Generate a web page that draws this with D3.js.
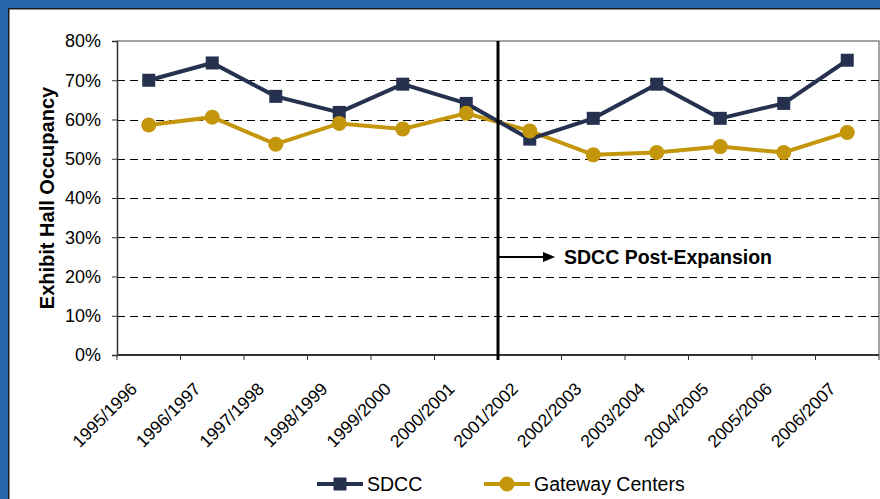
<!DOCTYPE html>
<html>
<head>
<meta charset="utf-8">
<script src="https://cdn.jsdelivr.net/npm/d3@7"></script>
<style>
  body { margin: 0; background: #fff; }
  svg { display: block; font-family: Arial, "Liberation Sans", sans-serif; }
</style>
</head>
<body>
<div id="chart"></div>
<script>
// data
var seasons = ["1995/1996", "1996/1997", "1997/1998", "1998/1999", "1999/2000", "2000/2001",
               "2001/2002", "2002/2003", "2003/2004", "2004/2005", "2005/2006", "2006/2007"];
var sdcc = [70.0, 74.4, 65.9, 61.8, 69.0, 64.1, 55.0, 60.3, 69.0, 60.3, 64.1, 75.1];
var gateway = [58.6, 60.6, 53.7, 59.0, 57.6, 61.6, 57.1, 51.0, 51.6, 53.1, 51.6, 56.7];
var yTicks = [0, 10, 20, 30, 40, 50, 60, 70, 80];
var expansionSeason = "2001/2002";

var W = 880, H = 499;
var margin = {top: 41, right: 1, bottom: 144, left: 117},
    width = W - margin.left - margin.right,
    height = H - margin.top - margin.bottom;

var navy = "#25314f", gold = "#c4960c";

var root = d3.select("#chart").append("svg")
    .attr("width", W).attr("height", H);

// blue frame
root.append("rect").attr("x", 0).attr("y", 0).attr("width", W).attr("height", H).attr("fill", "#2566a8");
root.append("rect").attr("x", 8).attr("y", 8).attr("width", W - 8).attr("height", H - 8).attr("fill", "#1a1a1a");
root.append("rect").attr("x", 9.5).attr("y", 9.5).attr("width", W - 9.5).attr("height", H - 9.5).attr("fill", "#fff");

var svg = root.append("g")
    .attr("transform", "translate(" + margin.left + "," + margin.top + ")");

var x = d3.scaleBand().domain(seasons).range([0, width]);
var y = d3.scaleLinear().domain([0, 80]).range([height, 0]);

// plot border (top/right)
svg.append("path")
    .attr("d", "M0,0H" + width + "V" + height)
    .attr("fill", "none").attr("stroke", "#8a8580").attr("stroke-width", 1.5);

// dashed gridlines
svg.selectAll(".grid")
  .data(yTicks.filter(function(d){ return d > 0 && d < 80; }))
  .enter().append("line")
    .attr("x1", 0).attr("x2", width)
    .attr("y1", function(d){ return Math.round(y(d)) + 0.5; })
    .attr("y2", function(d){ return Math.round(y(d)) + 0.5; })
    .attr("stroke", "#000").attr("stroke-width", 1)
    .attr("stroke-dasharray", "8,5");

// y axis
var yAxis = svg.append("g")
    .call(d3.axisLeft(y).tickValues(yTicks).tickSize(5).tickPadding(11)
      .tickFormat(function(d){ return d + "%"; }));
yAxis.select(".domain").attr("stroke", "#333").attr("stroke-width", 1.5);
yAxis.selectAll(".tick line").attr("stroke", "#333");
yAxis.selectAll("text").style("font-size", "18px").attr("fill", "#000");

// x axis, ticks at band edges
var xAxis = svg.append("g")
    .attr("transform", "translate(0," + height + ")");
xAxis.append("line").attr("x1", 0).attr("x2", width)
    .attr("stroke", "#333").attr("stroke-width", 2);
xAxis.selectAll(".edge")
  .data(seasons.concat(["end"]))
  .enter().append("line")
    .attr("x1", function(d, i){ return i * x.step(); })
    .attr("x2", function(d, i){ return i * x.step(); })
    .attr("y1", 0).attr("y2", 5)
    .attr("stroke", "#333").attr("stroke-width", 1);
xAxis.selectAll(".lab")
  .data(seasons)
  .enter().append("text")
    .attr("transform", function(d){
      return "translate(" + (x(d) + x.bandwidth() / 2 - 10.5) + ",35) rotate(-45)";
    })
    .attr("text-anchor", "end")
    .style("font-size", "17.5px")
    .attr("fill", "#000")
    .text(function(d){ return d; });

// y title
root.append("text")
    .attr("transform", "translate(54," + (margin.top + height / 2) + ") rotate(-90)")
    .attr("text-anchor", "middle")
    .style("font-size", "20px").style("font-weight", "bold")
    .text("Exhibit Hall Occupancy");

// series
var cx = function(d, i){ return x(seasons[i]) + x.bandwidth() / 2; };
var line = d3.line().x(cx).y(function(d){ return y(d); });

svg.append("path").datum(gateway)
    .attr("d", line).attr("fill", "none")
    .attr("stroke", gold).attr("stroke-width", 4);
svg.append("path").datum(sdcc)
    .attr("d", line).attr("fill", "none")
    .attr("stroke", navy).attr("stroke-width", 4);

svg.selectAll(".sq").data(sdcc).enter().append("rect")
    .attr("x", function(d, i){ return cx(d, i) - 6.5; })
    .attr("y", function(d){ return y(d) - 6.5; })
    .attr("width", 13).attr("height", 13)
    .attr("fill", navy);
svg.selectAll(".dot").data(gateway).enter().append("circle")
    .attr("cx", cx)
    .attr("cy", function(d){ return y(d); })
    .attr("r", 7.5)
    .attr("fill", gold);

// expansion marker
var ex = x(expansionSeason);
svg.append("line")
    .attr("x1", ex).attr("x2", ex).attr("y1", 0).attr("y2", height + 5)
    .attr("stroke", "#000").attr("stroke-width", 3);

var ay = y(25);
svg.append("line")
    .attr("x1", ex).attr("x2", ex + 46).attr("y1", ay).attr("y2", ay)
    .attr("stroke", "#000").attr("stroke-width", 2);
svg.append("path")
    .attr("d", "M" + (ex + 57) + "," + ay + "L" + (ex + 45) + "," + (ay - 5) + "L" + (ex + 45) + "," + (ay + 5) + "Z")
    .attr("fill", "#000");
svg.append("text")
    .attr("x", ex + 66).attr("y", ay).attr("dy", "0.36em")
    .style("font-size", "19.5px").style("font-weight", "bold")
    .text("SDCC Post-Expansion");

// legend
var legend = root.append("g").attr("transform", "translate(0,484)");
var items = [
  {name: "SDCC", color: navy, shape: "square", x: 317},
  {name: "Gateway Centers", color: gold, shape: "circle", x: 484}
];
items.forEach(function(it){
  var g = legend.append("g").attr("transform", "translate(" + it.x + ",0)");
  g.append("line").attr("x1", 0).attr("x2", 46).attr("y1", 0).attr("y2", 0)
    .attr("stroke", it.color).attr("stroke-width", 4);
  if (it.shape === "square") {
    g.append("rect").attr("x", 16.5).attr("y", -6.5).attr("width", 13).attr("height", 13).attr("fill", it.color);
  } else {
    g.append("circle").attr("cx", 23).attr("cy", 0).attr("r", 7.5).attr("fill", it.color);
  }
  g.append("text").attr("x", 50).attr("y", 0).attr("dy", "0.36em")
    .style("font-size", "19.5px").text(it.name);
});
</script>
</body>
</html>
